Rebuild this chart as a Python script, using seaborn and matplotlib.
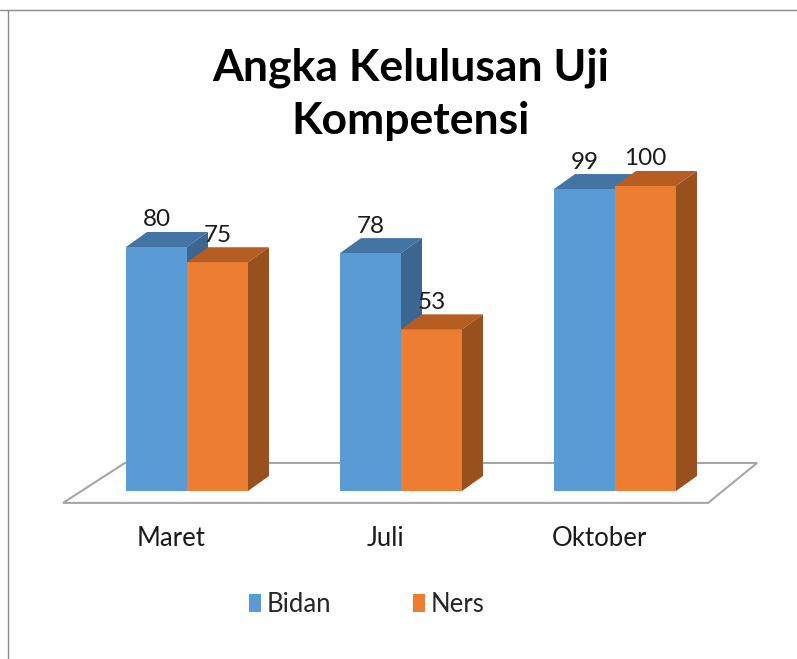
import pandas as pd
import numpy as np
import seaborn as sns
import matplotlib.pyplot as plt
from matplotlib.patches import Polygon, Patch
from matplotlib.lines import Line2D
from matplotlib.transforms import ScaledTranslation

# Data
bulan = ["Maret", "Juli", "Oktober"]
bidan = [80, 78, 99]
ners = [75, 53, 100]
kelompok = ["Bidan", "Ners"]

df = pd.DataFrame({
    "Bulan": bulan * 2,
    "Nilai": bidan + ners,
    "Kelompok": ["Bidan"] * 3 + ["Ners"] * 3,
})

front = ["#5B9BD5", "#ED7D31"]
top = ["#4474A3", "#B55D22"]
side = ["#3A6690", "#98501D"]

sns.set_style("white")
plt.rcParams["font.family"] = ["Lato", "DejaVu Sans"]

W, H = 797, 659
fig = plt.figure(figsize=(W / 100, H / 100), dpi=100)
ax = fig.add_axes([58.6 / W, (H - 491) / H, 684.8 / W, 396.5 / H])

sns.barplot(data=df, x="Bulan", y="Nilai", hue="Kelompok", palette=front,
            width=0.57, saturation=1, legend=False, ax=ax)
ax.set_xlim(-0.6, 2.6)
ax.set_ylim(0, 130)

# depth of the 3D effect in data units (approx 21px x, 15px y)
dx = 21 / 214
dy = 15 / 3.05

# Floor
floor = Polygon([(-0.579, -3.9), (-0.290, 9.2), (2.664, 9.2), (2.435, -3.9)],
                closed=True, facecolor="white", edgecolor="#A6A6A6",
                linewidth=1.5, zorder=1, clip_on=False)
ax.add_patch(floor)

# 3D faces
for k, p in enumerate(ax.patches[:6]):
    g = k // 3
    x0, w, h = p.get_x(), p.get_width(), p.get_height()
    p.set_edgecolor("none")
    p.set_zorder(2 + g * 3)
    ax.add_patch(Polygon([(x0, h), (x0 + dx, h + dy), (x0 + w + dx, h + dy), (x0 + w, h)],
                         facecolor=top[g], edgecolor="none", zorder=3 + g * 3, clip_on=False))
    ax.add_patch(Polygon([(x0 + w, 0), (x0 + w + dx, dy), (x0 + w + dx, h + dy), (x0 + w, h)],
                         facecolor=side[g], edgecolor="none", zorder=4 + g * 3, clip_on=False))
    ax.text(x0 + w / 2, h + dy + 0.5, f"{int(h)}", ha="center", va="bottom",
            fontsize=17.5, color="#1a1a1a", zorder=10, clip_on=False)

sns.despine(ax=ax, left=True, bottom=True)
ax.set_yticks([])
ax.set_xlabel("")
ax.set_ylabel("")
ax.tick_params(axis="x", length=0, pad=25, labelsize=18.5, labelcolor="#1a1a1a")
# category labels sit a bit left of the group centre (3D perspective)
shift = ScaledTranslation(-16 / 100, 0, fig.dpi_scale_trans)
for lbl in ax.get_xticklabels():
    lbl.set_transform(lbl.get_transform() + shift)

fig.text(0.515, 0.857, "Angka Kelulusan Uji\nKompetensi", ha="center", va="center",
         fontsize=32, fontweight="bold", color="black", linespacing=1.42)

handles = [Patch(facecolor=c, edgecolor="none") for c in front]
fig.legend(handles, kelompok, loc="center", bbox_to_anchor=(367 / W, 1 - 604 / H),
           ncol=2, frameon=False, fontsize=18.5, handlelength=0.45, handleheight=0.7,
           handletextpad=0.22, columnspacing=3.2)

# Outer border lines
fig.add_artist(Line2D([0, 1], [1 - 10 / H, 1 - 10 / H], color="#8c8c8c", linewidth=1))
fig.add_artist(Line2D([8 / W, 8 / W], [0, 1 - 10 / H], color="#8c8c8c", linewidth=1))

fig.savefig("out.png", dpi=100)
